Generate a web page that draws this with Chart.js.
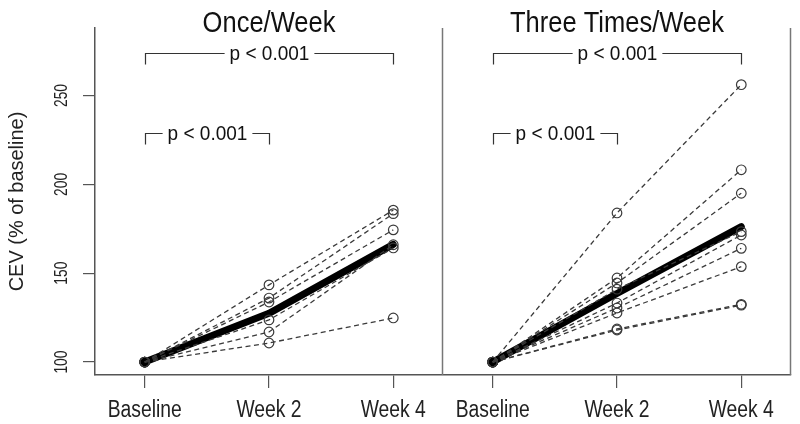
<!DOCTYPE html>
<html>
<head>
<meta charset="utf-8">
<script src="https://cdn.jsdelivr.net/npm/chart.js@4.4.1/dist/chart.umd.min.js"></script>
<style>
  html, body { margin: 0; padding: 0; background: #fff; }
</style>
</head>
<body>
<canvas id="chart" width="800" height="424"></canvas>
<script>
const categories = ["Baseline", "Week 2", "Week 4"];
const panelTitles = ["Once/Week", "Three Times/Week"];
const yTicks = [100, 150, 200, 250];
const yTitle = "CEV (% of baseline)";
const pLabel = "p < 0.001";

// Once/Week, each subject (% of baseline)
const onceBaseline = [100, 100, 100, 100, 100, 100];
const onceWeek2 = [143.4, 136.0, 133.8, 123.7, 116.9, 110.7];
const onceWeek4 = [185.5, 183.5, 174.4, 164.2, 166.0, 124.8];
const onceMean = [100, 127.4, 166.2];

// Three Times/Week, each subject (% of baseline)
const threeBaseline = [100, 100, 100, 100, 100, 100, 100, 100, 100];
const threeWeek2 = [183.9, 147.3, 144.5, 141.0, 133.2, 130.4, 127.6, 118.6, 118.0];
const threeWeek4 = [256.1, 208.2, 195.0, 173.4, 171.5, 164.0, 153.7, 132.5, 132.0];
const threeMean = [100, 138.6, 176.2];

// significance brackets: from / to category, height
const bracketFrom = [1, 1];
const bracketTo = [3, 2];
const bracketLevel = [274, 229];

const panelShift = 2.8;
const FONT = "'Liberation Sans', Arial, Helvetica, sans-serif";

function subjectSets(base, w2, w4, shift) {
  return base.map((b, i) => ({
    data: [
      { x: 1 + shift, y: b },
      { x: 2 + shift, y: w2[i] },
      { x: 3 + shift, y: w4[i] },
    ],
    borderColor: "#3a3a3a",
    borderWidth: 1.3,
    borderDash: [5, 3.5],
    pointRadius: 4.8,
    pointBorderWidth: 1.2,
    pointBorderColor: "#3a3a3a",
    pointBackgroundColor: "rgba(0,0,0,0)",
    tension: 0,
  }));
}

function meanSet(values, shift) {
  return {
    data: values.map((v, i) => ({ x: i + 1 + shift, y: v })),
    borderColor: "#000",
    borderWidth: 7,
    borderCapStyle: "round",
    borderJoinStyle: "round",
    pointRadius: (ctx) => (ctx.dataIndex === 0 ? 5 : 0),
    pointBackgroundColor: "#000",
    pointBorderWidth: 0,
    tension: 0,
  };
}

const datasets = [
  ...subjectSets(onceBaseline, onceWeek2, onceWeek4, 0),
  ...subjectSets(threeBaseline, threeWeek2, threeWeek4, panelShift),
  meanSet(onceMean, 0),
  meanSet(threeMean, panelShift),
];

const xTickPos = [1, 2, 3, 1 + panelShift, 2 + panelShift, 3 + panelShift];
const xTickLabels = categories.concat(categories);

// text squeezed sideways, the original uses a narrow Helvetica
function squeezedText(ctx, text, x, y, size, k, angle) {
  ctx.save();
  ctx.translate(x, y);
  if (angle) ctx.rotate(angle);
  ctx.scale(k, 1);
  ctx.font = size + "px " + FONT;
  ctx.fillText(text, 0, 0);
  ctx.restore();
}

const panelDecor = {
  id: "panelDecor",
  afterDraw(chart) {
    const { ctx, chartArea } = chart;
    const x = chart.scales.x;
    const y = chart.scales.y;
    ctx.save();

    // separator and right frame line
    ctx.strokeStyle = "#777";
    ctx.lineWidth = 1.5;
    [3.4, 3 + panelShift + 0.4].forEach((v) => {
      const px = Math.round(x.getPixelForValue(v)) - 0.5;
      ctx.beginPath();
      ctx.moveTo(px, chartArea.top);
      ctx.lineTo(px, chartArea.bottom);
      ctx.stroke();
    });

    ctx.fillStyle = "#222";
    ctx.textAlign = "center";

    // y tick labels, rotated like R
    ctx.textBaseline = "middle";
    yTicks.forEach((v) => {
      squeezedText(ctx, String(v), 62, y.getPixelForValue(v), 18, 0.77, -Math.PI / 2);
    });
    squeezedText(ctx, yTitle, 17, (chartArea.top + chartArea.bottom) / 2, 21, 0.95, -Math.PI / 2);

    // x tick labels
    ctx.textBaseline = "alphabetic";
    xTickPos.forEach((v, i) => {
      squeezedText(ctx, xTickLabels[i], x.getPixelForValue(v), 417, 23, 0.84);
    });

    // panel titles
    ctx.fillStyle = "#111";
    panelTitles.forEach((t, p) => {
      squeezedText(ctx, t, x.getPixelForValue(2 + p * panelShift), 32, 30, 0.85);
    });

    // brackets
    ctx.font = "20px " + FONT;
    const half = (ctx.measureText(pLabel).width * 0.95) / 2 + 5;
    ctx.textBaseline = "middle";
    ctx.strokeStyle = "#333";
    ctx.lineWidth = 1.2;
    [0, panelShift].forEach((shift) => {
      bracketFrom.forEach((from, i) => {
        const x0 = Math.round(x.getPixelForValue(from + shift)) + 0.5;
        const x1 = Math.round(x.getPixelForValue(bracketTo[i] + shift)) + 0.5;
        const yb = Math.round(y.getPixelForValue(bracketLevel[i])) + 0.5;
        const yt = yb + 11;
        const xc = (x0 + x1) / 2;
        ctx.beginPath();
        ctx.moveTo(x0, yt);
        ctx.lineTo(x0, yb);
        ctx.lineTo(xc - half, yb);
        ctx.moveTo(xc + half, yb);
        ctx.lineTo(x1, yb);
        ctx.lineTo(x1, yt);
        ctx.stroke();
        squeezedText(ctx, pLabel, xc, yb + 1, 20, 0.95);
      });
    });
    ctx.restore();
  },
};

new Chart(document.getElementById("chart"), {
  type: "line",
  data: { datasets },
  options: {
    responsive: false,
    animation: false,
    devicePixelRatio: 1,
    layout: { padding: { top: 28, right: 9, left: 0, bottom: 0 } },
    plugins: { legend: { display: false }, tooltip: { enabled: false } },
    scales: {
      x: {
        type: "linear",
        min: 0.6,
        max: 3 + panelShift + 0.4,
        afterBuildTicks: (s) => { s.ticks = xTickPos.map((v) => ({ value: v })); },
        afterFit: (s) => { s.height = 49; },
        grid: { drawOnChartArea: false, tickLength: 13, color: "#555", lineWidth: 1.2 },
        border: { display: true, color: "#555", width: 1.5 },
        ticks: { display: false },
      },
      y: {
        type: "linear",
        min: 92.7,
        max: 288,
        afterBuildTicks: (s) => { s.ticks = yTicks.map((v) => ({ value: v })); },
        afterFit: (s) => { s.width = 95; },
        grid: { drawOnChartArea: false, tickLength: 12, color: "#555", lineWidth: 1.2 },
        border: { display: true, color: "#555", width: 1.5 },
        ticks: { display: false },
      },
    },
  },
  plugins: [panelDecor],
});
</script>
</body>
</html>
